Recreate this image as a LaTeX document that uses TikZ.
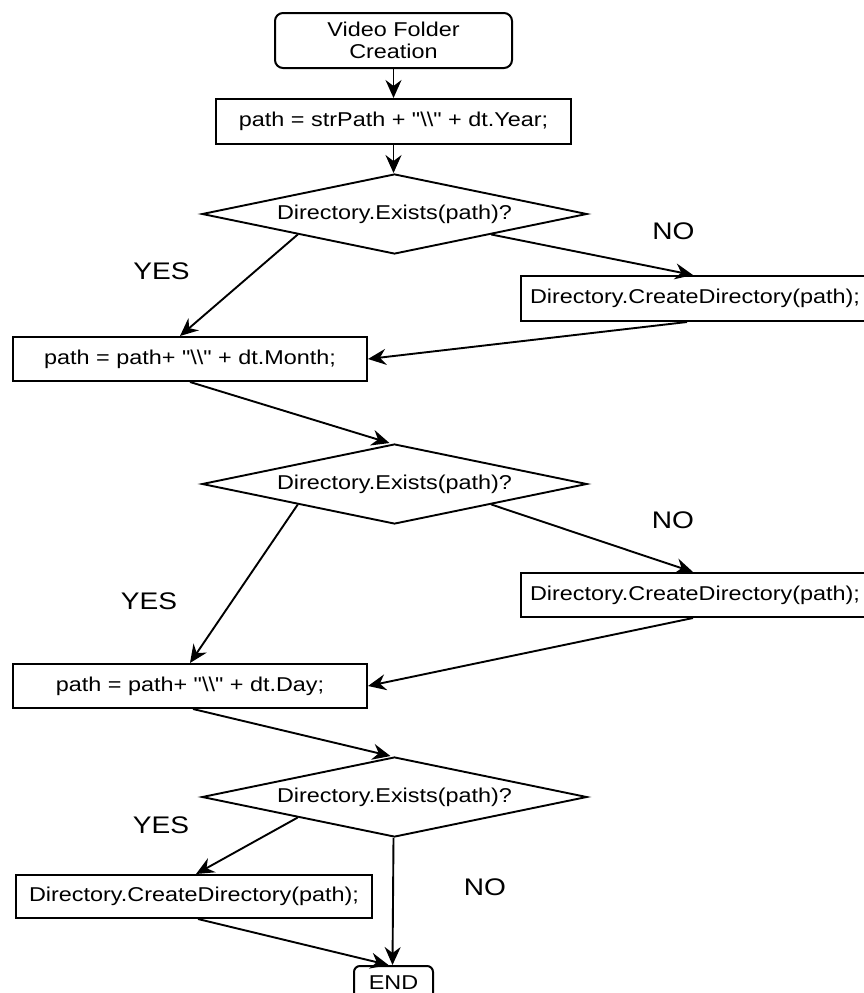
\documentclass[tikz,border=0pt]{standalone}
\usepackage{fontspec}
\setmainfont{Liberation Sans}[FakeStretch=1.17,Ligatures=TeXOff]
\usetikzlibrary{shapes.geometric,arrows.meta,calc}
\newcommand{\bsl}{\textbackslash}
\begin{document}
\begin{tikzpicture}[x=1pt,y=-1pt,
  every node/.style={font=\fontsize{20}{22}\selectfont},
  box/.style={draw,line width=2pt,inner sep=0pt,minimum height=45pt},
  dec/.style={draw,diamond,aspect=4.8,line width=1.9pt,minimum width=385pt,minimum height=80pt,inner sep=0pt},
  term/.style={draw,rounded corners=8pt,line width=2pt,align=center,inner sep=0pt},
  lbl/.style={font=\fontsize{24}{28}\selectfont,inner sep=0pt},
  flow/.style={-{Stealth[length=18pt,width=16pt,inset=6pt]},line width=1.9pt}]
\useasboundingbox (0,0) rectangle (864,993);
\clip (0,0) rectangle (864,993);

% process steps
\node[term,minimum width=237pt,minimum height=55pt] (start) at (393.5,40.5) {Video Folder\\Creation};
\node[box,minimum width=355pt] (b1) at (393.5,121.5) {path = strPath + "\bsl\bsl" + dt.Year;};
\node[dec] (d1) at (394.5,214) {Directory.Exists(path)?};
\node[box,minimum width=348pt] (c1) at (695,298.5) {Directory.CreateDirectory(path);};
\node[box,minimum width=354pt,minimum height=44pt] (b2) at (190,359) {path = path+ "\bsl\bsl" + dt.Month;};
\node[dec] (d2) at (394.5,484) {Directory.Exists(path)?};
\node[box,minimum width=348pt,minimum height=44pt] (c2) at (695,595) {Directory.CreateDirectory(path);};
\node[box,minimum width=354pt,minimum height=44pt] (b3) at (190,686) {path = path+ "\bsl\bsl" + dt.Day;};
\node[dec] (d3) at (394.5,797) {Directory.Exists(path)?};
\node[box,minimum width=356pt,minimum height=43pt] (c3) at (194,896.5) {Directory.CreateDirectory(path);};
\node[term,rounded corners=6pt,minimum width=79pt,minimum height=34pt] (fin) at (393.5,983) {END};

% branch labels
\node[lbl] (yes1) at (161.5,271) {YES};
\node[lbl] (no1) at (673.5,231.5) {NO};
\node[lbl] (yes2) at (149,601) {YES};
\node[lbl] (no2) at (673,520) {NO};
\node[lbl] (yes3) at (161,825) {YES};
\node[lbl] (no3) at (485,887) {NO};

% connectors
\draw[flow] (start) -- (b1);
\draw[flow] (b1) -- (b1.south |- d1.north);
\draw[flow] ($(d1.west)!0.5!(d1.south)$) -- ([xshift=-10pt]b2.north);
\draw[flow] ($(d1.east)!0.5!(d1.south)$) -- ([xshift=-2pt]c1.north);
\draw[flow] ([xshift=-8pt]c1.south) -- (b2.east);
\draw[flow] (b2.south) -- ([xshift=-5pt]d2.north);
\draw[flow] ($(d2.west)!0.5!(d2.south)$) -- (b3.north);
\draw[flow] ($(d2.east)!0.5!(d2.south)$) -- ([xshift=-2pt]c2.north);
\draw[flow] ([xshift=-2pt]c2.south) -- (b3.east);
\draw[flow] ([xshift=3pt]b3.south) -- ([xshift=-4pt]d3.north);
\draw[flow] ($(d3.west)!0.5!(d3.south)$) -- ([xshift=2pt]c3.north);
\draw[flow] ([xshift=4pt]c3.south) -- ([xshift=-5pt]fin.north);
\draw[flow] ([xshift=-1pt]d3.south) -- ([xshift=-1pt]fin.north);
\end{tikzpicture}
\end{document}
